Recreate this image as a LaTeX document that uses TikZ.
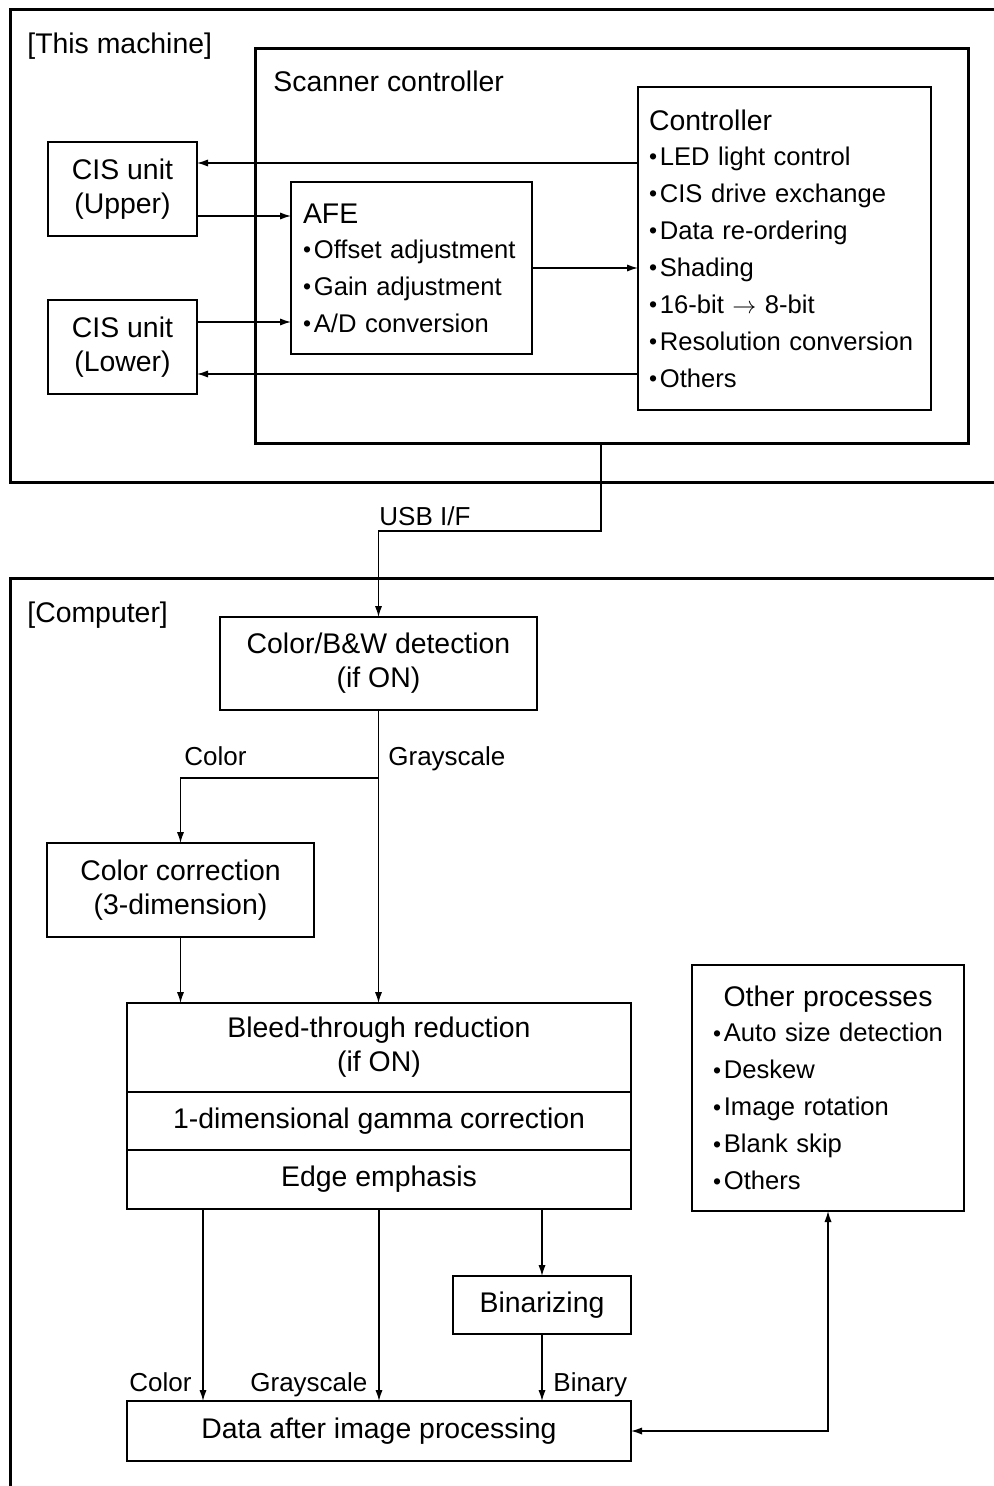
\documentclass[tikz,border=0pt]{standalone}
\usepackage{fontspec}
\setmainfont{Liberation Sans}
\usetikzlibrary{arrows.meta}

\newcommand\hdfont{\fontsize{14.2}{17}\selectfont}
\newcommand\itmfont{\fontsize{12.8}{18.5}\selectfont}
\newcommand\lblfont{\fontsize{13}{15}\selectfont}
\newcommand\bul{{\fontsize{11.5}{11.5}\selectfont\raisebox{0.2pt}{•}}\hspace{1.4pt}}
\newcommand\itm[1]{\mbox{\bul#1}}

\begin{document}
\begin{tikzpicture}[
  x=0.5pt, y=-0.5pt,
  outer/.style={line width=1.5pt},
  procbox/.style={draw, line width=1pt, inner sep=0pt, outer sep=0pt, align=center, font=\hdfont},
  listbox/.style={procbox, align=left, font=\itmfont},
  tag/.style={font=\lblfont, inner sep=0pt},
  title/.style={font=\hdfont, inner sep=0pt, anchor=base west},
  flow/.style={line width=0.65pt, -{Latex[length=5.5pt,width=3.6pt]}},
  both/.style={flow, {Latex[length=5.5pt,width=3.6pt]}-{Latex[length=5.5pt,width=3.6pt]}}
]
\useasboundingbox (0,0) rectangle (994,1486);

\draw[outer] (994,10) -- (10,10) -- (10,482) -- (994,482);
\draw[outer] (994,578) -- (10,578) -- (10,1486);
\node[title] (machine) at (27,54) {[This machine]};
\node[title] (computer) at (27,622) {[Computer]};

\node[procbox, line width=1.5pt, minimum width=356.5pt, minimum height=197pt] (scan) at (611.5,246) {};
\node[title] (scantxt) at (273,92) {Scanner controller};

\node[procbox, minimum width=74.5pt, minimum height=47pt] (cisup) at (122.5,189) {CIS unit\\(Upper)};
\node[procbox, minimum width=74.5pt, minimum height=47pt] (cislo) at (122.5,347) {CIS unit\\(Lower)};

\node[listbox, text width=108.5pt, inner xsep=6pt, minimum height=86pt] (afe) at (411.5,268)
  {{\hdfont AFE}\\[-1pt]
   \itm{Offset adjustment}\\
   \itm{Gain adjustment}\\
   \itm{A/D conversion}};

\node[listbox, text width=135.5pt, inner xsep=5.5pt, minimum height=161.5pt] (ctrl) at (784.5,248.5)
  {{\hdfont Controller}\\[-1pt]
   \itm{LED light control}\\
   \itm{CIS drive exchange}\\
   \itm{Data re-ordering}\\
   \itm{Shading}\\
   \itm{16-bit $\rightarrow$ 8-bit}\\
   \itm{Resolution conversion}\\
   \itm{Others}};

\coordinate (cu-in) at ([yshift=13pt]cisup.east);
\coordinate (cu-out) at ([yshift=-13.5pt]cisup.east);
\coordinate (cl-out) at ([yshift=12.5pt]cislo.east);
\coordinate (cl-in) at ([yshift=-13.5pt]cislo.east);
\draw[flow] (ctrl.west |- cu-in) -- (cu-in);
\draw[flow] (cu-out) -- (afe.west |- cu-out);
\draw[flow] (cl-out) -- (afe.west |- cl-out);
\draw[flow] (ctrl.west |- cl-in) -- (cl-in);
\draw[flow] (afe.east) -- (ctrl.west |- afe.east);

\node[procbox, minimum width=158.5pt, minimum height=46.5pt] (detect) at (378.5,663.5) {Color/B\&W detection\\(if ON)};
\coordinate (usb) at (601,531);
\draw[flow] (scan.south -| usb) -- (usb) -| (detect.north);
\node[tag, anchor=base west] (usbtxt) at (379,525) {USB I/F};

\node[procbox, minimum width=133.5pt, minimum height=47pt] (colcor) at (180.5,890) {Color correction\\(3-dimension)};
\node[procbox, minimum width=252pt, minimum height=44.5pt] (bleed) at (379,1047.5) {Bleed-through reduction\\(if ON)};
\node[procbox, minimum width=252pt, minimum height=29pt, anchor=north] (gamma) at (bleed.south) {1-dimensional gamma correction};
\node[procbox, minimum width=252pt, minimum height=29.5pt, anchor=north] (edge) at (gamma.south) {Edge emphasis};

\coordinate (split) at (378.5,778);
\draw[flow] (detect.south) -- (detect.south |- bleed.north);
\draw[flow] (split) -| (colcor.north);
\draw[flow] (colcor.south) -- (colcor.south |- bleed.north);
\node[tag, anchor=base west] (coltxt) at (184,765) {Color};
\node[tag, anchor=base west] (graytxt) at (388,765) {Grayscale};

\node[procbox, minimum width=89pt, minimum height=29pt] (binar) at (542,1305) {Binarizing};
\node[procbox, minimum width=252pt, minimum height=30pt] (data) at (379,1431) {Data after image processing};

\node[listbox, text width=115pt, inner xsep=10.5pt, minimum height=123pt] (other) at (828,1088)
  {\makebox[\hsize]{\hdfont Other processes}\\[-1pt]
   \itm{Auto size detection}\\
   \itm{Deskew}\\
   \itm{Image rotation}\\
   \itm{Blank skip}\\
   \itm{Others}};

\coordinate (colout) at (203,1209);
\draw[flow] (colout) -- (colout |- data.north);
\draw[flow] (edge.south) -- (data.north);
\draw[flow] (edge.south -| binar.north) -- (binar.north);
\draw[flow] (binar.south) -- (binar.south |- data.north);
\draw[both] (data.east) -| (other.south);
\node[tag, anchor=base east] (colortxt) at (192,1391) {Color};
\node[tag, anchor=base west] (grayout) at (250,1391) {Grayscale};
\node[tag, anchor=base west] (binout) at (553,1391) {Binary};
\end{tikzpicture}
\end{document}
